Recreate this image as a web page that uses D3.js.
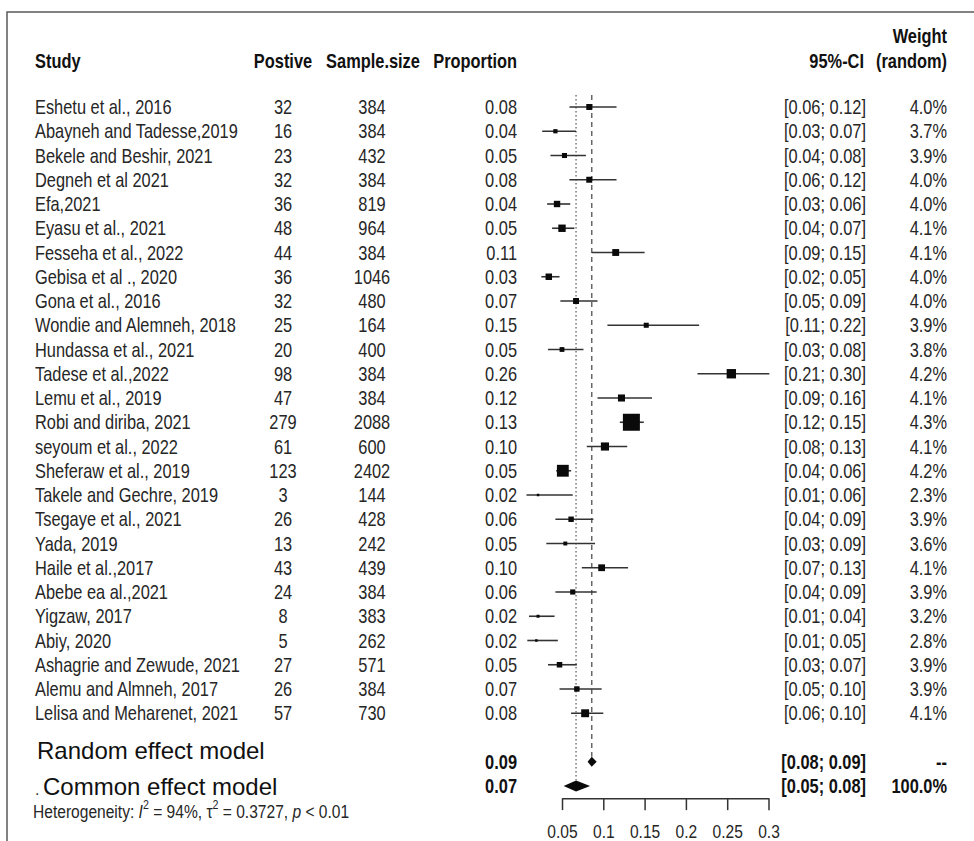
<!DOCTYPE html>
<html>
<head>
<meta charset="utf-8">
<script src="https://cdn.jsdelivr.net/npm/d3@7"></script>
<style>
body { margin: 0; background: #fff; }
svg { display: block; }
text { font-family: "Liberation Sans", Arial, sans-serif; }
</style>
</head>
<body>
<div id="chart"></div>
<script>
let w = 974;
let h = 841;

// study table
let studies = ["Eshetu et al., 2016", "Abayneh and Tadesse,2019", "Bekele and Beshir, 2021", "Degneh et al 2021",
	"Efa,2021", "Eyasu et al., 2021", "Fesseha et al., 2022", "Gebisa et al ., 2020", "Gona et al., 2016",
	"Wondie and Alemneh, 2018", "Hundassa et al., 2021", "Tadese et al.,2022", "Lemu et al., 2019",
	"Robi and diriba, 2021", "seyoum et al., 2022", "Sheferaw et al., 2019", "Takele and Gechre,  2019",
	"Tsegaye et al., 2021", "Yada, 2019", "Haile et al.,2017", "Abebe ea al.,2021", "Yigzaw, 2017",
	"Abiy, 2020", "Ashagrie and Zewude, 2021", "Alemu and Almneh, 2017", "Lelisa and Meharenet, 2021"];
let positive = [32, 16, 23, 32, 36, 48, 44, 36, 32, 25, 20, 98, 47, 279, 61, 123, 3, 26, 13, 43, 24, 8, 5, 27, 26, 57];
let sampleSize = [384, 384, 432, 384, 819, 964, 384, 1046, 480, 164, 400, 384, 384, 2088, 600, 2402, 144, 428, 242, 439, 384, 383, 262, 571, 384, 730];
let propLabels = ["0.08", "0.04", "0.05", "0.08", "0.04", "0.05", "0.11", "0.03", "0.07", "0.15", "0.05", "0.26", "0.12",
	"0.13", "0.10", "0.05", "0.02", "0.06", "0.05", "0.10", "0.06", "0.02", "0.02", "0.05", "0.07", "0.08"];
let ciLabels = ["[0.06; 0.12]", "[0.03; 0.07]", "[0.04; 0.08]", "[0.06; 0.12]", "[0.03; 0.06]", "[0.04; 0.07]",
	"[0.09; 0.15]", "[0.02; 0.05]", "[0.05; 0.09]", "[0.11; 0.22]", "[0.03; 0.08]", "[0.21; 0.30]", "[0.09; 0.16]",
	"[0.12; 0.15]", "[0.08; 0.13]", "[0.04; 0.06]", "[0.01; 0.06]", "[0.04; 0.09]", "[0.03; 0.09]", "[0.07; 0.13]",
	"[0.04; 0.09]", "[0.01; 0.04]", "[0.01; 0.05]", "[0.03; 0.07]", "[0.05; 0.10]", "[0.06; 0.10]"];
let weightLabels = ["4.0%", "3.7%", "3.9%", "4.0%", "4.0%", "4.1%", "4.1%", "4.0%", "4.0%", "3.9%", "3.8%", "4.2%", "4.1%",
	"4.3%", "4.1%", "4.2%", "2.3%", "3.9%", "3.6%", "4.1%", "3.9%", "3.2%", "2.8%", "3.9%", "3.9%", "4.1%"];

// plotted estimates and CI ends (read from square / line positions)
let est = [0.083, 0.042, 0.053, 0.083, 0.044, 0.050, 0.115, 0.034, 0.067, 0.152, 0.050, 0.255, 0.122,
	0.134, 0.102, 0.051, 0.021, 0.061, 0.054, 0.098, 0.063, 0.021, 0.019, 0.047, 0.068, 0.078];
let lower = [0.059, 0.026, 0.036, 0.059, 0.032, 0.038, 0.086, 0.025, 0.048, 0.105, 0.033, 0.214, 0.093,
	0.120, 0.080, 0.043, 0.007, 0.042, 0.031, 0.074, 0.042, 0.010, 0.008, 0.033, 0.047, 0.061];
let upper = [0.116, 0.067, 0.079, 0.116, 0.060, 0.065, 0.150, 0.047, 0.093, 0.216, 0.076, 0.301, 0.159,
	0.149, 0.129, 0.061, 0.063, 0.088, 0.090, 0.130, 0.092, 0.041, 0.045, 0.068, 0.098, 0.100];
// square area weights (%), estimated from square sizes
let squareWeight = [2.8, 1.4, 2.0, 2.8, 3.2, 4.3, 3.7, 3.3, 2.8, 2.0, 1.8, 6.9, 3.9,
	22.7, 5.2, 11.0, 0.3, 2.3, 1.2, 3.6, 2.1, 0.7, 0.5, 2.4, 2.3, 4.9];

// pooled rows
let pooledNames = ["Random effect model", "Common effect model"];
let pooledEst = [0.086, 0.067];
let pooledLower = [0.081, 0.052];
let pooledUpper = [0.092, 0.084];
let pooledProp = ["0.09", "0.07"];
let pooledCI = ["[0.08; 0.09]", "[0.05; 0.08]"];
let pooledWeight = ["--", "100.0%"];

let tickValues = [0.05, 0.1, 0.15, 0.2, 0.25, 0.3];
let tickLabels = ["0.05", "0.1", "0.15", "0.2", "0.25", "0.3"];

// no narrow font installed: squeeze Liberation Sans like Arial Narrow
let squeeze = 0.82;
function narrowAt(x, y){
	return "translate(" + x + "," + y + ") scale(" + squeeze + ",1)";
}

let viz = d3.select("#chart").append("svg")
	.attr("width", w)
	.attr("height", h)
	.style("background-color", "white");

let xScale = d3.scaleLinear().domain([0.05, 0.3]).range([562, 768.5]);
let yScale = d3.scaleLinear().domain([0, 25]).range([107, 713.25]);
let sScale = d3.scaleSqrt().domain([0, 22.7]).range([0, 17]);

// frame
viz.append("rect")
	.attr("x", 7).attr("y", 12)
	.attr("width", 1000).attr("height", 900)
	.attr("fill", "none")
	.attr("stroke", "#5a5a5a")
	.attr("stroke-width", 1.5);

let textColor = "#262626";

// headers
let header = viz.append("g")
	.style("font-weight", "bold").style("font-size", "20px").attr("fill", "#111");
let headers = [
	["Study", 35, 68, "start"],
	["Postive", 283, 68, "middle"],
	["Sample.size", 373, 68, "middle"],
	["Proportion", 517, 68, "end"],
	["95%-CI", 864, 68, "end"],
	["(random)", 947, 68, "end"],
	["Weight", 947, 43, "end"]
];
header.selectAll("text").data(headers).enter().append("text")
	.attr("transform", function(d){ return narrowAt(d[1], d[2]); })
	.attr("text-anchor", function(d){ return d[3]; })
	.text(function(d){ return d[0]; });

// study rows
let rows = viz.append("g")
	.style("font-size", "20px").attr("fill", textColor);

let idx = d3.range(studies.length);

let cols = [
	{ x: 35, anchor: "start", vals: studies },
	{ x: 283, anchor: "middle", vals: positive },
	{ x: 372, anchor: "middle", vals: sampleSize },
	{ x: 517, anchor: "end", vals: propLabels },
	{ x: 866, anchor: "end", vals: ciLabels },
	{ x: 947, anchor: "end", vals: weightLabels }
];

cols.forEach(function(c){
	rows.selectAll(null).data(idx).enter().append("text")
		.attr("transform", function(i){ return narrowAt(c.x, yScale(i) + 7); })
		.attr("text-anchor", c.anchor)
		.text(function(i){ return c.vals[i]; });
});

// reference lines
let lineTop = 95;
viz.append("line")
	.attr("x1", xScale(pooledEst[1])).attr("x2", xScale(pooledEst[1]))
	.attr("y1", lineTop).attr("y2", yScale(28) - 6)
	.attr("stroke", "#777").attr("stroke-width", 1.5)
	.attr("stroke-dasharray", "1.5,2.5");
viz.append("line")
	.attr("x1", xScale(pooledEst[0])).attr("x2", xScale(pooledEst[0]))
	.attr("y1", lineTop).attr("y2", yScale(27) - 5)
	.attr("stroke", "#666").attr("stroke-width", 1.5)
	.attr("stroke-dasharray", "5,4");

// CI lines
let plot = viz.append("g");
plot.selectAll(".ci").data(idx).enter().append("line")
	.attr("class", "ci")
	.attr("x1", function(i){ return xScale(lower[i]); })
	.attr("x2", function(i){ return xScale(upper[i]); })
	.attr("y1", function(i){ return yScale(i); })
	.attr("y2", function(i){ return yScale(i); })
	.attr("stroke", "#333")
	.attr("stroke-width", 1.6);

// squares
function side(i){ return Math.max(sScale(squareWeight[i]), 2.5); }
plot.selectAll(".sq").data(idx).enter().append("rect")
	.attr("class", "sq")
	.attr("x", function(i){ return xScale(est[i]) - side(i) / 2; })
	.attr("y", function(i){ return yScale(i) - side(i) / 2; })
	.attr("width", side)
	.attr("height", side)
	.attr("fill", "#0a0a0a");

// pooled diamonds
let pIdx = [0, 1];
let diamondH = [5, 5.5];
plot.selectAll(".dia").data(pIdx).enter().append("path")
	.attr("class", "dia")
	.attr("d", function(i){
		let y = yScale(27 + i);
		let hh = diamondH[i];
		return "M" + xScale(pooledLower[i]) + "," + y +
			"L" + xScale(pooledEst[i]) + "," + (y - hh) +
			"L" + xScale(pooledUpper[i]) + "," + y +
			"L" + xScale(pooledEst[i]) + "," + (y + hh) + "Z";
	})
	.attr("fill", "#0a0a0a");

// pooled labels (plain, wider font)
viz.append("g")
	.style("font-size", "24px")
	.attr("fill", "#111")
	.selectAll("text").data(pIdx).enter().append("text")
	.attr("x", function(i){ return i == 0 ? 37 : 43; })
	.attr("y", function(i){ return i == 0 ? 759 : 795; })
	.text(function(i){ return pooledNames[i]; });
viz.append("text")
	.attr("x", 35).attr("y", 795)
	.style("font-size", "16px").attr("fill", "#333")
	.text(".");

let pooledText = viz.append("g")
	.style("font-weight", "bold").style("font-size", "20px").attr("fill", "#111");
[[517, pooledProp], [866, pooledCI], [947, pooledWeight]].forEach(function(c){
	pooledText.selectAll(null).data(pIdx).enter().append("text")
		.attr("transform", function(i){ return narrowAt(c[0], yScale(27 + i) + 7); })
		.attr("text-anchor", "end")
		.text(function(i){ return c[1][i]; });
});

// heterogeneity line
let het = viz.append("text")
	.attr("transform", narrowAt(33, 818))
	.style("font-size", "19px").attr("fill", textColor);
het.append("tspan").text("Heterogeneity: ");
het.append("tspan").style("font-style", "italic").text("I");
het.append("tspan").attr("dy", -9).style("font-size", "13px").text("2");
het.append("tspan").attr("dy", 9).text(" = 94%, \u03c4");
het.append("tspan").attr("dy", -9).style("font-size", "13px").text("2");
het.append("tspan").attr("dy", 9).text(" = 0.3727, ");
het.append("tspan").style("font-style", "italic").text("p");
het.append("tspan").text(" < 0.01");

// x axis
let axis = d3.axisBottom(xScale)
	.tickValues(tickValues)
	.tickFormat(function(d, i){ return tickLabels[i]; })
	.tickSize(12)
	.tickPadding(14)
	.tickSizeOuter(0);

let axisGroup = viz.append("g")
	.attr("transform", "translate(0," + yScale(28.5) + ")")
	.call(axis);
axisGroup.select(".domain").attr("stroke", "#333").attr("stroke-width", 1.5);
axisGroup.selectAll(".tick line").attr("stroke", "#333").attr("stroke-width", 1.5);
axisGroup.selectAll(".tick text")
	.attr("transform", "scale(" + squeeze + ",1)")
	.style("font-family", "'Liberation Sans', Arial, sans-serif")
	.style("font-size", "19px")
	.attr("fill", textColor);
</script>
</body>
</html>
